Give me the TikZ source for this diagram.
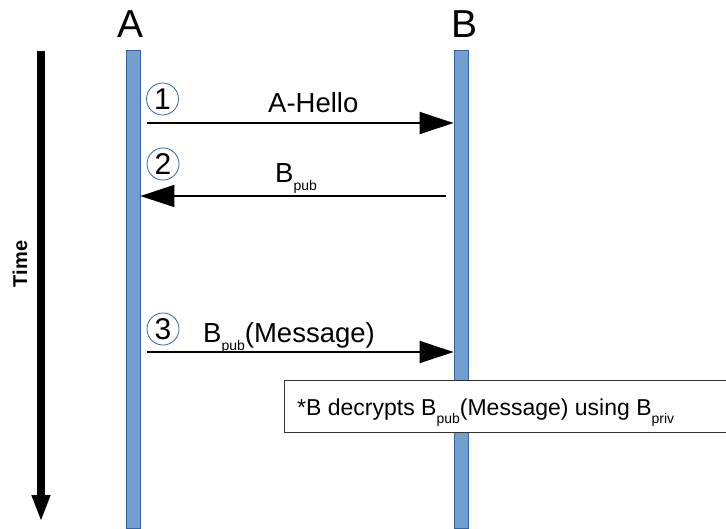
\documentclass[tikz,border=0pt]{standalone}
\usepackage{fontspec}
\setmainfont{Liberation Sans}
\usetikzlibrary{arrows.meta}
\definecolor{lifefill}{HTML}{729FCF}
\definecolor{lifeedge}{HTML}{3465A4}
\definecolor{stepring}{HTML}{3465A4}
\newcommand\lowsub[1]{\raisebox{-8pt}{\fontsize{14}{14}\selectfont #1}}
\tikzset{
  lifeline/.style={rectangle, fill=lifefill, draw=lifeedge, line width=0.8pt,
    minimum width=14pt, inner sep=0pt},
  actor/.style={font=\fontsize{39}{39}\selectfont, inner sep=0pt, anchor=base},
  msg/.style={draw=black, line width=2pt, -{Triangle[length=34pt,width=22pt]}},
  msglabel/.style={font=\fontsize{27.5}{27.5}\selectfont, inner sep=0pt, anchor=base west},
  stepnum/.style={circle, draw=stepring, line width=0.8pt, minimum size=32pt,
    inner sep=0pt, font=\fontsize{30}{30}\selectfont},
  notebox/.style={rectangle, fill=white, inner sep=0pt, minimum width=442pt,
    minimum height=51pt, anchor=west},
}
\begin{document}
\begin{tikzpicture}[x=1pt, y=-1pt]
  \useasboundingbox (0,0) rectangle (726,528);

  % participants and their lifelines
  \node[actor] (A) at (130.5,37) {A};
  \node[actor] (B) at (465,37) {B};
  \node[lifeline, minimum height=478pt] (la) at (133,289) {};
  \node[lifeline, minimum height=478pt] (lb) at (461,289) {};

  % time axis
  \coordinate (t0) at (41,51);
  \coordinate (t1) at (41,522);
  \draw[line width=7.5pt, -{Triangle[length=27pt,width=17pt]}] (t0) -- (t1);
  \node[rotate=90, font=\fontsize{20}{20}\selectfont\bfseries, inner sep=0pt] (time) at (20,264) {Time};

  % message 1: A -> B
  \coordinate (m1s) at (147,123);
  \coordinate (m1e) at (lb.west |- m1s);
  \draw[msg] (m1s) -- (m1e);
  \node[stepnum] (s1) at (162.5,99) {1};
  \node[msglabel] (l1) at (268,112) {A-Hello};

  % message 2: B -> A
  \coordinate (m2s) at (446,196);
  \coordinate (m2e) at (la.east |- m2s);
  \draw[msg] (m2s) -- (m2e);
  \node[stepnum] (s2) at (163,164) {2};
  \node[msglabel] (l2) at (275,182) {B\lowsub{pub}};

  % message 3: A -> B
  \coordinate (m3s) at (147,352);
  \coordinate (m3e) at (lb.west |- m3s);
  \draw[msg] (m3s) -- (m3e);
  \node[stepnum] (s3) at (163,329) {3};
  \node[msglabel] (l3) at (203,342) {B\lowsub{pub}(Message)};

  % note, open on the right
  \node[notebox] (note) at (284,406.5) {};
  \draw[draw=black!80, line width=0.8pt]
    (note.north east) -- (note.north west) -- (note.south west) -- (note.south east);
  \node[font=\fontsize{23}{23}\selectfont, inner sep=0pt, anchor=base west] (notetext)
    at (297,415) {*B decrypts B\lowsub{pub}(Message) using B\lowsub{priv}};
\end{tikzpicture}
\end{document}
